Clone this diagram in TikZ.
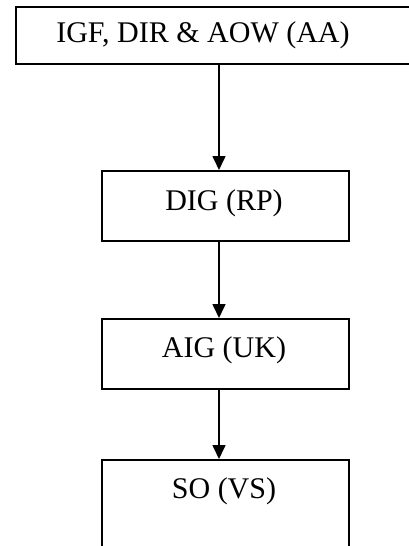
\documentclass[tikz,border=0pt]{standalone}
\usepackage{fontspec}
\setmainfont{Liberation Serif}
\usetikzlibrary{arrows.meta}
\begin{document}
\begin{tikzpicture}[x=1pt,y=-1pt,
  box/.style={draw=black,line width=2pt,rectangle,inner sep=0pt,anchor=north west},
  lbl/.style={font=\fontsize{30}{36}\selectfont,inner sep=0pt,anchor=base},
  arr/.style={line width=1.6pt,-{Triangle[width=13pt,length=14pt]}}]
\useasboundingbox (0,0) rectangle (409,546);
\clip (0,0) rectangle (409,546);
\fill[white] (0,0) rectangle (409,546);
\node[box,minimum width=420pt,minimum height=57pt] (b1) at (15,6) {};
\node[lbl] (t1) at (203,42) {IGF, DIR \& AOW (AA)};
\node[box,minimum width=247pt,minimum height=70pt] (b2) at (101,170) {};
\node[lbl] (t2) at (224,210) {DIG (RP)};
\node[box,minimum width=247pt,minimum height=70pt] (b3) at (101,318) {};
\node[lbl] (t3) at (224,357) {AIG (UK)};
\node[box,minimum width=247pt,minimum height=90pt] (b4) at (101,459) {};
\node[lbl] (t4) at (224,498) {SO (VS)};
\coordinate (ax) at (219,0);
\draw[arr] (b1.south -| ax) -- (b2.north -| ax);
\draw[arr] (b2.south -| ax) -- (b3.north -| ax);
\draw[arr] (b3.south -| ax) -- (b4.north -| ax);
\end{tikzpicture}
\end{document}
